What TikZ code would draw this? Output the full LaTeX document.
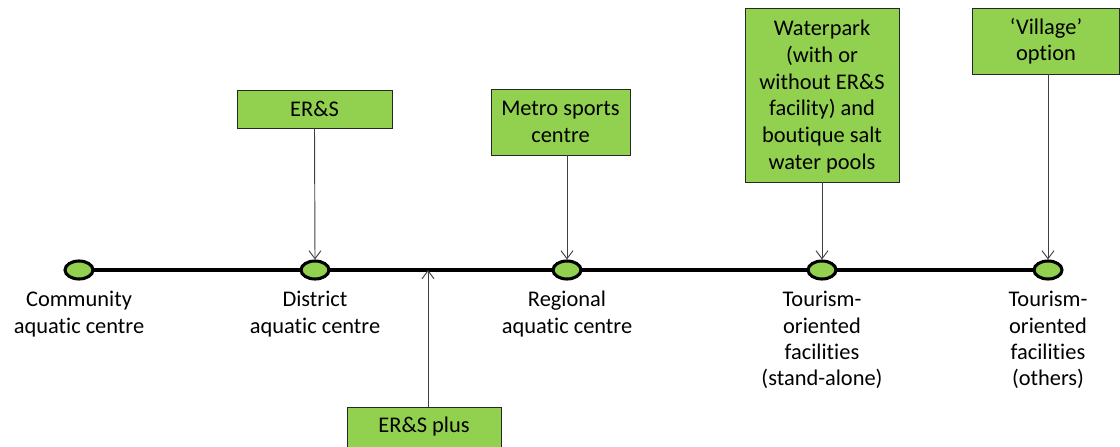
\documentclass[tikz,border=0pt]{standalone}
\usepackage{fontspec}
\setmainfont{Carlito}[Ligatures=NoCommon]
\usetikzlibrary{arrows.meta,shapes.geometric}
\definecolor{lgreen}{HTML}{92D050}
\begin{document}
\begin{tikzpicture}[x=0.75pt,y=-0.75pt,
  every node/.style={font=\fontsize{16.8pt}{19.8pt}\selectfont},
  dot/.style={ellipse,draw=black,line width=2.3pt,fill=lgreen,minimum width=21pt,minimum height=13.5pt,inner sep=0},
  gbox/.style={draw=black!85,line width=0.6pt,fill=lgreen,align=center,inner sep=0},
  lbl/.style={align=center,anchor=north,inner sep=0},
  arr/.style={draw=black!75,line width=0.7pt,-{Straight Barb[length=6pt,width=9pt]}}]
\useasboundingbox (0,0) rectangle (1120,446);
% line
\coordinate (L0) at (79,270);
\coordinate (L1) at (1048,270);
\draw[line width=2.3pt] (L0) -- (L1);
\node[dot] (c1) at (79,270) {};
\node[dot] (c2) at (315,270) {};
\node[dot] (c3) at (567,270) {};
\node[dot] (c4) at (822,270) {};
\node[dot] (c5) at (1048,270) {};
% labels
\node[lbl] (t1) at (79,291) {Community\\aquatic centre};
\node[lbl] (t2) at (315,291) {District\\aquatic centre};
\node[lbl] (t3) at (567,291) {Regional\\aquatic centre};
\node[lbl] (t4) at (822,291) {Tourism-\\oriented\\facilities\\(stand-alone)};
\node[lbl] (t5) at (1048,291) {Tourism-\\oriented\\facilities\\(others)};
% boxes
\node[gbox,minimum width=116.25pt,minimum height=28.5pt] (b1) at (314.5,109) {ER\&S};
\node[gbox,minimum width=104.25pt,minimum height=49.5pt] (b2) at (560.5,122) {Metro sports\\centre};
\node[gbox,minimum width=115.5pt,minimum height=130.5pt,font=\fontsize{16.8pt}{20.2pt}\selectfont] (b3) at (822,95) {\rule{0pt}{14pt}Waterpark\\(with or\\without ER\&S\\facility) and\\boutique salt\\water pools};
\node[gbox,minimum width=110.25pt,minimum height=49.5pt] (b4) at (1046,41) {`Village'\\option};
\node[gbox,minimum width=115.5pt,minimum height=30pt] (b5) at (424,427) {ER\&S plus};
\coordinate (p) at (428,270);
% arrows
\draw[arr] (b1.south) -- (c2.north);
\draw[arr] (b2.south -| c3) -- (c3.north);
\draw[arr] (b3.south) -- (c4.north);
\draw[arr] (b4.south -| c5) -- (c5.north);
\draw[arr] (b5.north -| p) -- (p);
\end{tikzpicture}
\end{document}
